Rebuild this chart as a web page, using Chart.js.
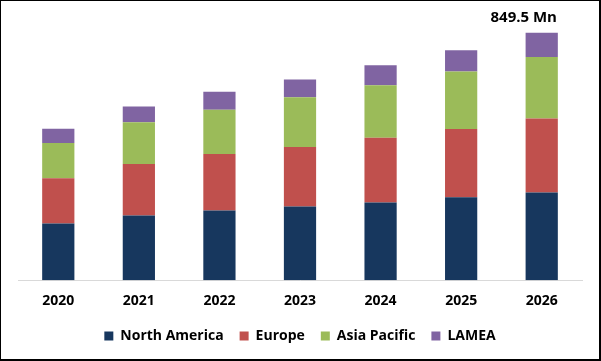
<!DOCTYPE html>
<html>
<head>
<meta charset="utf-8">
<script src="https://cdn.jsdelivr.net/npm/chart.js@4.4.1/dist/chart.umd.min.js"></script>
<style>
  html, body { margin: 0; padding: 0; background: #fff; }
  #wrap { width: 601px; height: 361px; box-sizing: border-box; border-style: solid; border-color: #000; border-width: 1px 2px 2px 1px; position: relative; }
  canvas { display: block; }
</style>
</head>
<body>
<div id="wrap"><canvas id="c"></canvas></div>
<script>
const years = ['2020', '2021', '2022', '2023', '2024', '2025', '2026'];
const northAmerica = [195, 222, 239, 253, 267, 285, 301];
const europe       = [155, 177, 194, 204, 222, 234, 254];
const asiaPacific  = [121, 143, 152, 171, 180, 197, 211];
const lamea        = [48.5, 54, 62, 61, 69, 73, 83.5];
const totalLabel = '849.5 Mn';

const FONT = "'Open Sans', 'Liberation Sans', sans-serif";

const annotate = {
  id: 'annotate',
  afterDatasetsDraw(chart) {
    const last = years.length - 1;
    const total = northAmerica[last] + europe[last] + asiaPacific[last] + lamea[last];
    const x = chart.scales.x.getPixelForValue(last) - 18;
    const y = chart.scales.y.getPixelForValue(total) - 15;
    const ctx = chart.ctx;
    ctx.save();
    ctx.font = "bold 15px " + FONT;
    ctx.fillStyle = '#000';
    ctx.textAlign = 'center';
    ctx.textBaseline = 'middle';
    ctx.fillText(totalLabel, x, y);
    ctx.restore();
  }
};

new Chart(document.getElementById('c'), {
  type: 'bar',
  data: {
    labels: years,
    datasets: [
      { label: 'North America', data: northAmerica, backgroundColor: '#17375E' },
      { label: 'Europe', data: europe, backgroundColor: '#C0504D' },
      { label: 'Asia Pacific', data: asiaPacific, backgroundColor: '#9BBB59' },
      { label: 'LAMEA', data: lamea, backgroundColor: '#8064A2' }
    ]
  },
  options: {
    responsive: true,
    maintainAspectRatio: false,
    animation: false,
    layout: { padding: { left: 17, right: 17, top: 17, bottom: 6 } },
    datasets: { bar: { categoryPercentage: 0.8, barPercentage: 0.5 } },
    scales: {
      x: {
        stacked: true,
        grid: { display: false },
        border: { display: true, color: '#D9D9D9', width: 1 },
        ticks: { color: '#000', font: { family: FONT, size: 14, weight: 'bold' }, padding: 4 }
      },
      y: {
        stacked: true,
        display: false,
        min: 0,
        max: 900
      }
    },
    plugins: {
      legend: {
        position: 'bottom',
        labels: {
          color: '#000',
          font: { family: FONT, size: 14, weight: 'bold' },
          boxWidth: 9,
          boxHeight: 9,
          padding: 16
        }
      },
      tooltip: { enabled: false }
    }
  },
  plugins: [annotate]
});
</script>
</body>
</html>
